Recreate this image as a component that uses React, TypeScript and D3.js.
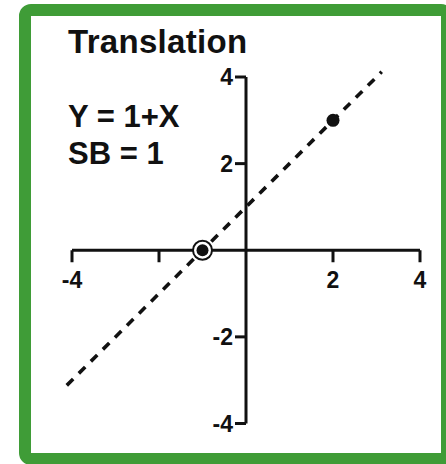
import React from "react";
import * as d3 from "d3";

// Plot content
const titleText = "Translation";
const equationLines = ["Y = 1+X", "SB = 1"];
const xTicks = [-4, -2, 2, 4];
const xTickLabels = ["-4", "", "2", "4"];
const yTicks = [4, 2, -2, -4];
const yTickLabels = ["4", "2", "-2", "-4"];
const lineXRange = [-4.12, 3.12];
const slope = 1;
const intercept = 1;
const filledPoint = [2, 3];
const ringedPoint = [-1, 0];

const W = 446;
const H = 464;
const FONT = "'Liberation Sans', Arial, sans-serif";

export default function App() {
  const x = d3.scaleLinear().domain([-4, 4]).range([72, 420]);
  const y = d3.scaleLinear().domain([-4, 4]).range([423.5, 77]);

  const lineGen = d3
    .line<number>()
    .x((v) => x(v))
    .y((v) => y(intercept + slope * v));

  const x0 = x(0);
  const y0 = y(0);

  return (
    <svg
      width={W}
      height={H}
      style={{ position: "absolute", left: 0, top: 0, background: "#fff" }}
    >
      {/* green frame */}
      <rect
        x={25}
        y={10}
        width={422}
        height={449}
        rx={6}
        fill="#fff"
        stroke="#3f9c37"
        strokeWidth={12}
      />

      <text
        x={68}
        y={53}
        fontFamily={FONT}
        fontWeight="bold"
        fontSize={33}
        letterSpacing={0.3}
        fill="#111"
      >
        {titleText}
      </text>
      {equationLines.map((t, i) => (
        <text
          key={t}
          x={68}
          y={127 + i * 37}
          fontFamily={FONT}
          fontWeight="bold"
          fontSize={31}
          fill="#111"
        >
          {t}
        </text>
      ))}

      {/* axes */}
      <line x1={x(-4)} x2={x(4)} y1={y0} y2={y0} stroke="#111" strokeWidth={3} />
      <line x1={x0} x2={x0} y1={y(4)} y2={y(-4)} stroke="#111" strokeWidth={3} />
      {xTicks.map((t, i) => (
        <g key={"xt" + t}>
          <line x1={x(t)} x2={x(t)} y1={y0} y2={y0 + 12} stroke="#111" strokeWidth={3} />
          {xTickLabels[i] && (
            <text
              x={x(t)}
              y={288}
              textAnchor="middle"
              fontFamily={FONT}
              fontWeight="bold"
              fontSize={23}
              fill="#111"
            >
              {xTickLabels[i]}
            </text>
          )}
        </g>
      ))}
      {yTicks.map((t, i) => (
        <g key={"yt" + t}>
          <line x1={x0 - 11} x2={x0} y1={y(t)} y2={y(t)} stroke="#111" strokeWidth={3} />
          <text
            x={x0 - 13}
            y={y(t)}
            dy="0.36em"
            textAnchor="end"
            fontFamily={FONT}
            fontWeight="bold"
            fontSize={23}
            fill="#111"
          >
            {yTickLabels[i]}
          </text>
        </g>
      ))}

      {/* dashed line Y = 1 + X */}
      <path
        d={lineGen(lineXRange) || ""}
        fill="none"
        stroke="#111"
        strokeWidth={3.6}
        strokeDasharray="9 8"
      />

      {/* ringed intercept point */}
      <circle cx={x(ringedPoint[0])} cy={y(ringedPoint[1])} r={9.5} fill="#fff" stroke="#111" strokeWidth={2} />
      <circle cx={x(ringedPoint[0])} cy={y(ringedPoint[1])} r={6} fill="#111" />

      {/* filled point */}
      <circle cx={x(filledPoint[0])} cy={y(filledPoint[1])} r={6.5} fill="#111" />
    </svg>
  );
}
